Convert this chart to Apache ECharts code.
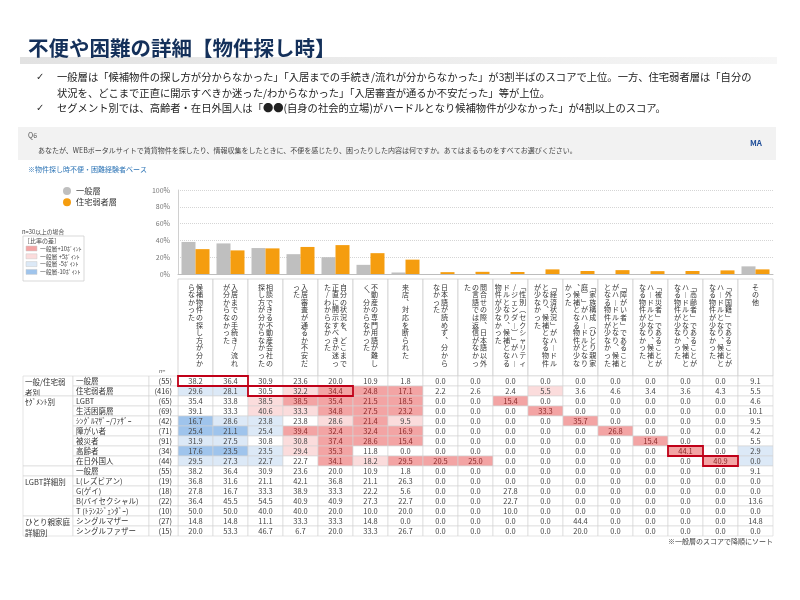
<!DOCTYPE html>
<html><head><meta charset="utf-8">
<script src="https://cdn.jsdelivr.net/npm/echarts@6/dist/echarts.min.js"></script>
<style>html,body{margin:0;padding:0;background:#fff}#c{width:800px;height:600px}</style>
</head><body><div id="c"></div>
<script>
// ---------- DATA ----------
const categories = [
  '候補物件の探し方が分からなかった',
  '入居までの手続き/流れが分からなかった',
  '相談できる不動産会社の探し方が分からなかった',
  '入居審査が通るか不安だった',
  '自分の状況を、どこまで正直に開示すべきか迷った/わからなかった',
  '不動産の専門用語が難しく、分からなかった',
  '来店、対応を断られた',
  '日本語が読めず、分からなかった',
  '問合せの際、日本語以外の言語では返信がなかった',
  '「性別(セクシャリティ/ジェンダー)」がハードルとなり、候補となる物件が少なかった',
  '「経済状況」がハードルとなり、候補となる物件が少なかった',
  '「家族構成(ひとり親家庭)」がハードルとなり、候補となる物件が少なかった',
  '「障がい者」であることがハードルとなり、候補となる物件が少なかった',
  '「被災者」であることがハードルとなり、候補となる物件が少なかった',
  '「高齢者」であることがハードルとなり、候補となる物件が少なかった',
  '「外国籍」であることがハードルとなり、候補となる物件が少なかった',
  'その他'
];
const seriesGeneral = [38.2,36.4,30.9,23.6,20.0,10.9,1.8,0,0,0,0,0,0,0,0,0,9.1];
const seriesWeak    = [29.6,28.1,30.5,32.2,34.4,24.8,17.1,2.2,2.6,2.4,5.5,3.6,4.6,3.4,3.6,4.3,5.5];

const rowLabels = ['一般層','住宅弱者層','LGBT','生活困窮層','ｼﾝｸﾞﾙﾏｻﾞｰ/ﾌｧｻﾞｰ','障がい者','被災者','高齢者','在日外国人',
  '一般層','L(レズビアン)','G(ゲイ)','B(バイセクシャル)','T (ﾄﾗﾝｽｼﾞｪﾝﾀﾞｰ)','シングルマザー','シングルファザー'];
const rowN = [55,416,65,69,42,71,91,34,44,55,19,18,22,10,27,15];
const rowGroups = [[0,1,'一般/住宅弱\n者別'],[2,8,'ｾｸﾞﾒﾝﾄ別'],[9,9,''],[10,13,'LGBT詳細別'],[14,15,'ひとり親家庭\n詳細別']];
const tableValues = [
  seriesGeneral,
  seriesWeak,
  [35.4,33.8,38.5,38.5,35.4,21.5,18.5,0,0,15.4,0,0,0,0,0,0,4.6],
  [39.1,33.3,40.6,33.3,34.8,27.5,23.2,0,0,0,33.3,0,0,0,0,0,10.1],
  [16.7,28.6,23.8,23.8,28.6,21.4,9.5,0,0,0,0,35.7,0,0,0,0,9.5],
  [25.4,21.1,25.4,39.4,32.4,32.4,16.9,0,0,0,0,0,26.8,0,0,0,4.2],
  [31.9,27.5,30.8,30.8,37.4,28.6,15.4,0,0,0,0,0,0,15.4,0,0,5.5],
  [17.6,23.5,23.5,29.4,35.3,11.8,0,0,0,0,0,0,0,0,44.1,0,2.9],
  [29.5,27.3,22.7,22.7,34.1,18.2,29.5,20.5,25.0,0,0,0,0,0,0,40.9,0],
  seriesGeneral,
  [36.8,31.6,21.1,42.1,36.8,21.1,26.3,0,0,0,0,0,0,0,0,0,0],
  [27.8,16.7,33.3,38.9,33.3,22.2,5.6,0,0,27.8,0,0,0,0,0,0,0],
  [36.4,45.5,54.5,40.9,40.9,27.3,22.7,0,0,22.7,0,0,0,0,0,0,13.6],
  [50.0,50.0,40.0,40.0,20.0,10.0,20.0,0,0,10.0,0,0,0,0,0,0,0],
  [14.8,14.8,11.1,33.3,33.3,14.8,0,0,0,0,0,44.4,0,0,0,0,14.8],
  [20.0,53.3,46.7,6.7,20.0,33.3,26.7,0,0,0,0,20.0,0,0,0,0,0]
];
const highlights = [[0,0,1],[1,2,4],[7,14,14],[8,15,15]]; // [row, colStart, colEnd]

// ---------- STYLE ----------
const FONT = "'Noto Sans CJK JP','Noto Sans',sans-serif";
const C_PINK2 = '#f3a4a4', C_PINK1 = '#fbdcdc', C_BLUE1 = '#dce9f7', C_BLUE2 = '#9fc4ec';

const vertMap = {'「':'﹁','」':'﹂','ー':'︱','、':'︑','(':'︵',')':'︶'};
function chunk(s, n){ const a=[...s], out=[]; for(let i=0;i<a.length;i+=n) out.push(a.slice(i,i+n)); return out; }

function cellColor(r, c){
  if (r === 0 || rowN[r] < 30) return '#ffffff';
  const d = tableValues[r][c] - seriesGeneral[c];
  if (d >= 10) return C_PINK2;
  if (d >= 5) return C_PINK1;
  if (d <= -10) return C_BLUE2;
  if (d <= -5) return C_BLUE1;
  return '#ffffff';
}

const rowCats = rowLabels.map((_, i) => 'r' + i);

function rectOf(api, x, y){
  const p = api.coord([x, y]); const s = api.size([1, 1]);
  return {x: p[0]-s[0]/2, y: p[1]-s[1]/2, width: s[0], height: s[1], cx: p[0], cy: p[1]};
}

function renderHeader(params, api){
  const i = params.dataIndex;
  const R = rectOf(api, i, 0);
  const children = [{type:'rect', shape:{x:R.x,y:R.y,width:R.width,height:R.height}, style:{fill:'#fff', stroke:'#cfcfcf', lineWidth:0.8}}];
  const cols = chunk(categories[i], 11);
  const cw = 8.1, chh = 7.6;
  cols.forEach((col, j) => {
    const cx = R.cx + (cols.length-1)*cw/2 - j*cw;
    col.forEach((chr, k) => {
      children.push({type:'text', style:{text: vertMap[chr] || chr, x: cx, y: R.y + 8 + k*chh,
        align:'center', verticalAlign:'middle', fontSize:7, fontFamily:FONT, fill:'#333'}});
    });
  });
  return {type:'group', children};
}

function renderCell(params, api){
  const c = api.value(0), r = api.value(1), v = api.value(2);
  const R = rectOf(api, c, r);
  const fill = cellColor(r, c);
  return {type:'group', children:[
    {type:'rect', shape:{x:R.x,y:R.y,width:R.width,height:R.height}, style:{fill, stroke:'#d3d3d3', lineWidth:0.6}},
    {type:'text', style:{text: v.toFixed(1), x:R.cx, y:R.cy+0.3, align:'center', verticalAlign:'middle',
      fontSize:7.5, fontFamily:FONT, fill: fill === C_PINK2 ? '#8a2a2a' : '#444'}}
  ]};
}

function renderHighlight(params, api){
  const r = api.value(1), c0 = api.value(0), c1 = api.value(2);
  const A = rectOf(api, c0, r), B = rectOf(api, c1, r);
  return {type:'rect', z2: 10, shape:{x:A.x, y:A.y, width:B.x+B.width-A.x, height:A.height},
    style:{fill:'none', stroke:'#c00018', lineWidth:1.8}};
}

function renderGroup(params, api){
  const g = rowGroups[params.dataIndex];
  const A = rectOf(api, 0, g[0]), B = rectOf(api, 0, g[1]);
  return {type:'group', children:[
    {type:'rect', shape:{x:A.x, y:A.y, width:A.width, height:B.y+B.height-A.y}, style:{fill:'#fff', stroke:'#d3d3d3', lineWidth:0.6}},
    {type:'text', style:{text:g[2], x:A.x+2, y:A.y+1.5, align:'left', verticalAlign:'top', fontSize:7.5, lineHeight:10.3, fontFamily:FONT, fill:'#333'}}
  ]};
}

function renderLabel(params, api){
  const i = params.dataIndex;
  const R = rectOf(api, 0, i);
  return {type:'group', children:[
    {type:'rect', shape:{x:R.x,y:R.y,width:R.width,height:R.height}, style:{fill:'#fff', stroke:'#d3d3d3', lineWidth:0.6}},
    {type:'text', style:{text:rowLabels[i], x:R.x+3, y:R.cy+0.3, align:'left', verticalAlign:'middle', fontSize:7.5, fontFamily:FONT, fill:'#333'}}
  ]};
}

function renderN(params, api){
  const i = params.dataIndex;
  const R = rectOf(api, 0, i);
  return {type:'group', children:[
    {type:'rect', shape:{x:R.x,y:R.y,width:R.width,height:R.height}, style:{fill:'#fff', stroke:'#d3d3d3', lineWidth:0.6}},
    {type:'text', style:{text:'(' + rowN[i] + ')', x:R.x+R.width-6, y:R.cy+0.3, align:'right', verticalAlign:'middle', fontSize:7.5, fontFamily:FONT, fill:'#333'}}
  ]};
}

const cellData = [];
tableValues.forEach((row, r) => row.forEach((v, c) => cellData.push([c, r, v])));

const txt = (text, x, y, opt) => ({type:'text', x, y, silent:true,
  style: Object.assign({text, fontFamily:FONT, fontSize:10.3, fill:'#222', align:'left', verticalAlign:'middle'}, opt || {})});

const legendSwatches = [[C_PINK2,'一般層+10ﾎﾟｲﾝﾄ'],[C_PINK1,'一般層 +5ﾎﾟｲﾝﾄ'],[C_BLUE1,'一般層 -5ﾎﾟｲﾝﾄ'],[C_BLUE2,'一般層-10ﾎﾟｲﾝﾄ']];
const swatchEls = [];
legendSwatches.forEach((s, i) => {
  swatchEls.push({type:'rect', shape:{x:26, y:246 + i*7.8, width:11, height:5}, style:{fill:s[0], stroke:'#c9c9c9', lineWidth:0.5}});
  swatchEls.push(txt(s[1], 40, 248.5 + i*7.8, {fontSize:5.8, fill:'#444'}));
});

const graphic = [
  {type:'rect', shape:{x:20, y:57, width:757, height:7}, silent:true,
    style:{fill:new echarts.graphic.LinearGradient(0,0,1,0,[{offset:0,color:'#e2e2e2'},{offset:1,color:'#f6f6f6'}])}},
  txt('不便や困難の詳細【物件探し時】', 28, 48, {fontSize:20.5, fontWeight:'bold', fill:'#14305a'}),
  txt('✓', 36, 77, {fontFamily:'DejaVu Sans', fontSize:10, fill:'#333'}),
  txt('一般層は「候補物件の探し方が分からなかった」「入居までの手続き/流れが分からなかった」が3割半ばのスコアで上位。一方、住宅弱者層は「自分の', 57, 77),
  txt('状況を、どこまで正直に開示すべきか迷った/わからなかった」「入居審査が通るか不安だった」等が上位。', 57, 93),
  txt('✓', 36, 108, {fontFamily:'DejaVu Sans', fontSize:10, fill:'#333'}),
  txt('セグメント別では、高齢者・在日外国人は「●●(自身の社会的立場)がハードルとなり候補物件が少なかった」が4割以上のスコア。', 57, 108),
  {type:'rect', shape:{x:18, y:127, width:758, height:33}, silent:true, style:{fill:'#f2f2f2'}},
  txt('Q6', 28, 135, {fontSize:7, fill:'#555'}),
  txt('あなたが、WEBポータルサイトで賃貸物件を探したり、情報収集をしたときに、不便を感じたり、困ったりした内容は何ですか。あてはまるものをすべてお選びください。', 38, 150, {fontSize:7, fill:'#444'}),
  txt('MA', 750, 143, {fontSize:8, fontWeight:'bold', fill:'#1f4e99'}),
  txt('※物件探し時不便・困難経験者ベース', 28, 169, {fontSize:7, fill:'#2e75b6'}),
  txt('n=30以上の場合', 22, 232, {fontSize:5.8, fill:'#444'}),
  {type:'rect', shape:{x:23, y:236, width:61, height:45}, silent:true, style:{fill:'#fff', stroke:'#cfcfcf', lineWidth:0.8}},
  txt('［比率の差］', 24, 241, {fontSize:6, fill:'#444'}),
  ...swatchEls,
  txt('n=', 159, 371, {fontSize:5.5, fill:'#555'}),
  txt('※一般層のスコアで降順にソート', 773, 541, {fontSize:7, fill:'#444', align:'right'})
];

const hiddenCat = (gridIndex, data, inverse) => ({type:'category', gridIndex, data, inverse: !!inverse, show:false});

const option = {
  animation: false,
  textStyle: {fontFamily: FONT},
  graphic,
  legend: {data:['一般層','住宅弱者層'], orient:'vertical', left:58, top:182, icon:'circle',
    itemWidth:8, itemHeight:8, itemGap:3, textStyle:{fontSize:8.2, color:'#333', fontFamily:FONT}},
  grid: [
    {left:178, top:190, width:595, height:84},
    {left:178, top:279, width:595, height:97},
    {left:178, top:376, width:595, height:160},
    {left:23, top:376, width:50, height:160},
    {left:73, top:376, width:76, height:160},
    {left:149, top:376, width:29, height:160}
  ],
  xAxis: [
    {type:'category', gridIndex:0, data:categories, axisLabel:{show:false}, axisTick:{show:false},
      axisLine:{lineStyle:{color:'#bdbdbd', width:1}}},
    hiddenCat(1, categories),
    hiddenCat(2, categories),
    hiddenCat(3, ['g']),
    hiddenCat(4, ['l']),
    hiddenCat(5, ['n'])
  ],
  yAxis: [
    {type:'value', gridIndex:0, min:0, max:100, interval:20,
      axisLabel:{formatter:'{value}%', fontSize:7, color:'#777', margin:8},
      axisLine:{show:true, lineStyle:{color:'#d0d0d0'}}, axisTick:{show:false},
      splitLine:{lineStyle:{color:'#d5d5d5', type:'dotted', width:1}}},
    hiddenCat(1, ['h']),
    hiddenCat(2, rowCats, true),
    hiddenCat(3, rowCats, true),
    hiddenCat(4, rowCats, true),
    hiddenCat(5, rowCats, true)
  ],
  series: [
    {name:'一般層', type:'bar', xAxisIndex:0, yAxisIndex:0, data:seriesGeneral, barWidth:14, barGap:'0%',
      itemStyle:{color:'#bfbfbf'}},
    {name:'住宅弱者層', type:'bar', xAxisIndex:0, yAxisIndex:0, data:seriesWeak, barWidth:14, barGap:'0%',
      itemStyle:{color:'#f59d0f'}},
    {name:'header', type:'custom', xAxisIndex:1, yAxisIndex:1, data:categories.map((_, i) => [i, 0]),
      encode:{x:0, y:1}, renderItem:renderHeader, silent:true},
    {name:'cells', type:'custom', xAxisIndex:2, yAxisIndex:2, data:cellData,
      encode:{x:0, y:1}, renderItem:renderCell, silent:true},
    {name:'highlight', type:'custom', xAxisIndex:2, yAxisIndex:2, z:5, data:highlights.map(h => [h[1], h[0], h[2]]),
      encode:{x:0, y:1}, renderItem:renderHighlight, silent:true},
    {name:'groups', type:'custom', xAxisIndex:3, yAxisIndex:3, data:rowGroups.map(g => [0, g[0], g[1]]),
      encode:{x:0, y:1}, renderItem:renderGroup, silent:true},
    {name:'labels', type:'custom', xAxisIndex:4, yAxisIndex:4, data:rowLabels.map((_, i) => [0, i]),
      encode:{x:0, y:1}, renderItem:renderLabel, silent:true},
    {name:'ns', type:'custom', xAxisIndex:5, yAxisIndex:5, data:rowN.map((_, i) => [0, i]),
      encode:{x:0, y:1}, renderItem:renderN, silent:true}
  ]
};

const chart = echarts.init(document.getElementById('c'), null, {renderer:'canvas'});
chart.setOption(option);
</script>
</body></html>
